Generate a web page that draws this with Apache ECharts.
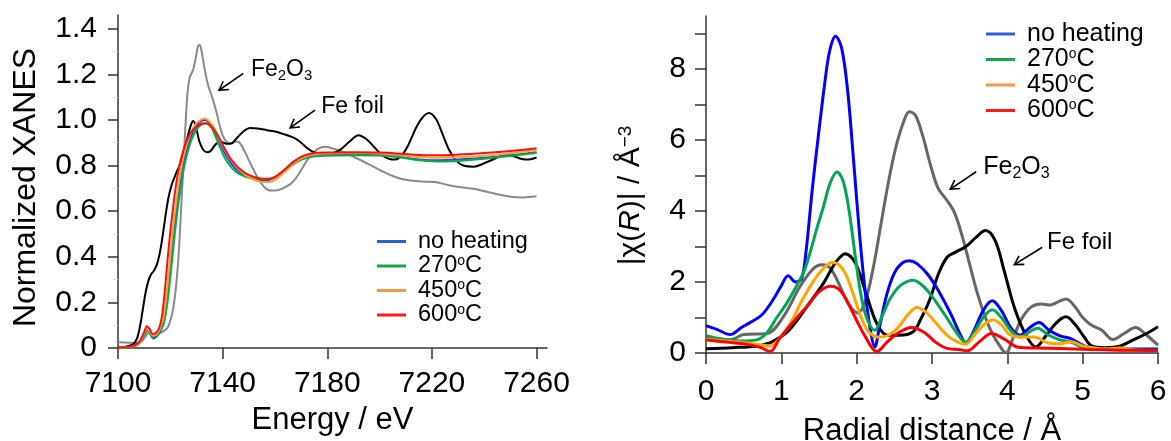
<!DOCTYPE html>
<html>
<head>
<meta charset="utf-8">
<script src="https://cdn.jsdelivr.net/npm/echarts@6/dist/echarts.min.js"></script>
<style>
    html, body { margin: 0; padding: 0; background: #fff; }
    #chart { width: 1171px; height: 441px; }
</style>
</head>
<body>
<div id="chart"></div>
<script>
// ---- values ----
const sample_names = ["no heating", "270ºC", "450ºC", "600ºC"];

// left panel: XANES, [energy eV, normalized absorption]
const xanes_no_heating = [[7100,0.003],[7105,0.006],[7108,0.02],[7110,0.06],[7111.3,0.08],[7112.2,0.065],[7113.4,0.042],[7114.8,0.05],[7116.2,0.075],[7117.5,0.11],[7118.7,0.2],[7119.7,0.31],[7120.6,0.42],[7121.6,0.53],[7122.6,0.625],[7123.7,0.71],[7125,0.8],[7126.5,0.875],[7128,0.93],[7130,0.975],[7132,0.997],[7133.5,1.0],[7135,0.985],[7137,0.95],[7139,0.9],[7141,0.85],[7143.5,0.805],[7146,0.775],[7149,0.752],[7152,0.74],[7155,0.735],[7158,0.738],[7161,0.755],[7164,0.785],[7167,0.815],[7170,0.835],[7174,0.847],[7180,0.85],[7190,0.852],[7200,0.848],[7208,0.838],[7215,0.827],[7222,0.823],[7230,0.826],[7240,0.834],[7250,0.845],[7260,0.858]];
const xanes_270 = [[7100,0.002],[7105,0.005],[7108,0.018],[7110,0.055],[7111.3,0.078],[7112.2,0.065],[7113.4,0.048],[7114.8,0.055],[7116.2,0.078],[7117.5,0.11],[7118.9,0.2],[7120,0.31],[7121,0.42],[7122,0.53],[7123,0.625],[7124.1,0.71],[7125.4,0.8],[7126.9,0.87],[7128.5,0.925],[7130.5,0.965],[7132.5,0.983],[7134,0.985],[7135.5,0.97],[7137,0.935],[7139,0.88],[7141,0.83],[7143.5,0.79],[7146,0.765],[7149,0.75],[7152,0.743],[7155,0.74],[7158,0.742],[7161,0.755],[7164,0.78],[7167,0.805],[7170,0.825],[7174,0.838],[7180,0.843],[7190,0.845],[7200,0.844],[7208,0.835],[7215,0.823],[7222,0.818],[7230,0.82],[7240,0.83],[7250,0.842],[7260,0.855]];
const xanes_450 = [[7100,0.002],[7105,0.006],[7108,0.022],[7110,0.065],[7111.2,0.088],[7112.2,0.072],[7113.4,0.055],[7114.8,0.06],[7116,0.085],[7117.3,0.13],[7118.4,0.22],[7119.4,0.33],[7120.3,0.44],[7121.2,0.54],[7122.2,0.635],[7123.2,0.72],[7124.5,0.81],[7126,0.88],[7127.6,0.935],[7129.6,0.98],[7131.6,1.0],[7133.2,1.006],[7135,0.993],[7137,0.96],[7139,0.91],[7141,0.865],[7143.5,0.82],[7146,0.785],[7149,0.757],[7152,0.738],[7155,0.728],[7158,0.728],[7161,0.745],[7164,0.775],[7167,0.808],[7170,0.832],[7174,0.848],[7180,0.853],[7190,0.856],[7200,0.853],[7208,0.845],[7215,0.837],[7222,0.834],[7230,0.836],[7240,0.843],[7250,0.854],[7260,0.868]];
const xanes_600 = [[7100,0.002],[7105,0.007],[7108,0.025],[7110,0.07],[7111,0.095],[7112,0.085],[7113.2,0.062],[7114.5,0.066],[7115.8,0.09],[7116.8,0.14],[7117.8,0.24],[7118.6,0.34],[7119.3,0.43],[7120.1,0.52],[7121,0.61],[7122,0.7],[7123.3,0.79],[7124.8,0.86],[7126.5,0.915],[7128.5,0.955],[7130.5,0.975],[7132.5,0.985],[7134.5,0.982],[7136.5,0.96],[7138.5,0.925],[7140.5,0.88],[7143,0.83],[7146,0.79],[7149,0.765],[7152,0.75],[7155,0.742],[7158,0.742],[7161,0.758],[7164,0.785],[7167,0.815],[7170,0.838],[7174,0.853],[7180,0.857],[7190,0.858],[7200,0.857],[7208,0.852],[7215,0.846],[7222,0.845],[7230,0.848],[7240,0.855],[7250,0.864],[7260,0.876]];
const xanes_fe_foil = [[7100,0.002],[7103,0.005],[7105,0.012],[7106.5,0.025],[7107.5,0.05],[7108.5,0.1],[7109.5,0.17],[7110.5,0.24],[7111.5,0.29],[7112.5,0.32],[7113.8,0.34],[7115,0.37],[7116.2,0.43],[7117.3,0.51],[7118.3,0.59],[7119.3,0.66],[7120.5,0.715],[7122,0.76],[7123.5,0.8],[7125,0.855],[7126.5,0.92],[7127.8,0.975],[7128.8,0.995],[7129.8,0.97],[7131,0.91],[7132.5,0.87],[7134,0.858],[7135.5,0.865],[7137.5,0.895],[7139.5,0.903],[7141.5,0.895],[7143,0.895],[7145,0.915],[7147.5,0.945],[7150.5,0.965],[7153.5,0.962],[7157,0.955],[7160.5,0.948],[7164,0.935],[7167.5,0.92],[7170,0.9],[7172.5,0.875],[7175,0.857],[7178,0.85],[7181.5,0.852],[7185,0.87],[7188.5,0.905],[7192,0.933],[7195,0.915],[7198,0.88],[7201,0.845],[7203.5,0.83],[7206,0.826],[7208.5,0.845],[7211,0.89],[7213.5,0.955],[7216,1.005],[7218.8,1.03],[7221.5,1.005],[7224,0.94],[7226.5,0.87],[7229,0.825],[7232,0.8],[7236,0.795],[7240,0.81],[7244,0.83],[7248,0.845],[7251,0.842],[7254,0.83],[7257,0.826],[7260,0.835]];
const xanes_fe2o3 = [[7100,0.025],[7104,0.023],[7107,0.022],[7109,0.03],[7110.5,0.05],[7111.5,0.065],[7112.5,0.06],[7114,0.058],[7116,0.065],[7117.5,0.075],[7119,0.09],[7120.5,0.14],[7121.8,0.23],[7123,0.38],[7124,0.58],[7125,0.8],[7125.9,1.0],[7126.6,1.12],[7127.4,1.185],[7128.7,1.22],[7129.7,1.27],[7130.5,1.32],[7131.1,1.33],[7131.8,1.31],[7133,1.23],[7134.5,1.15],[7136,1.1],[7137.5,1.04],[7139,0.97],[7140.5,0.92],[7142,0.9],[7143.5,0.898],[7145,0.905],[7146.5,0.9],[7148.5,0.86],[7151,0.8],[7153.5,0.745],[7156,0.705],[7158.5,0.69],[7161,0.692],[7164,0.705],[7167,0.73],[7170,0.78],[7173,0.835],[7176,0.87],[7179,0.882],[7182,0.875],[7186,0.86],[7191,0.833],[7196,0.805],[7201,0.775],[7206,0.75],[7211,0.735],[7216,0.73],[7221,0.728],[7226,0.715],[7231,0.705],[7236,0.698],[7241,0.685],[7246,0.672],[7251,0.662],[7255,0.66],[7260,0.665]];

// right panel: |chi(R)|, [R in Å, magnitude]
const ft_no_heating = [[0,0.77],[0.15,0.66],[0.32,0.52],[0.47,0.72],[0.61,0.89],[0.74,1.07],[0.89,1.5],[1.0,1.9],[1.09,2.18],[1.19,2.0],[1.27,2.1],[1.33,2.9],[1.41,4.6],[1.49,6.1],[1.57,7.5],[1.64,8.5],[1.72,8.93],[1.8,8.6],[1.88,7.4],[1.96,5.4],[2.04,3.3],[2.12,1.6],[2.19,0.55],[2.24,0.17],[2.3,0.7],[2.4,1.65],[2.5,2.25],[2.6,2.53],[2.7,2.6],[2.8,2.52],[2.95,2.2],[3.1,1.7],[3.25,1.1],[3.38,0.5],[3.45,0.28],[3.55,0.6],[3.68,1.2],[3.8,1.47],[3.92,1.2],[4.05,0.7],[4.17,0.5],[4.3,0.72],[4.42,0.86],[4.55,0.65],[4.7,0.48],[4.85,0.4],[5.02,0.2],[5.2,0.13],[5.6,0.11],[6,0.11]];
const ft_270 = [[0,0.49],[0.2,0.4],[0.45,0.34],[0.67,0.37],[0.8,0.55],[0.94,1.0],[1.07,1.4],[1.2,1.88],[1.3,2.3],[1.38,2.82],[1.47,3.5],[1.56,4.13],[1.65,4.8],[1.74,5.1],[1.82,4.85],[1.9,4.0],[1.98,2.75],[2.06,1.6],[2.14,0.95],[2.24,0.64],[2.34,1.05],[2.45,1.55],[2.58,1.9],[2.75,2.05],[2.9,1.85],[3.05,1.45],[3.2,0.98],[3.35,0.5],[3.45,0.3],[3.55,0.55],[3.68,1.0],[3.8,1.22],[3.92,1.0],[4.05,0.62],[4.17,0.45],[4.3,0.6],[4.4,0.7],[4.55,0.5],[4.7,0.37],[4.85,0.3],[5.05,0.12],[5.3,0.1],[6,0.08]];
const ft_450 = [[0,0.38],[0.3,0.33],[0.55,0.28],[0.75,0.22],[0.85,0.2],[0.95,0.35],[1.05,0.6],[1.15,0.95],[1.25,1.38],[1.36,1.8],[1.47,2.16],[1.58,2.43],[1.68,2.55],[1.77,2.48],[1.86,2.2],[1.96,1.62],[2.06,1.0],[2.16,0.6],[2.28,0.45],[2.42,0.5],[2.55,0.72],[2.68,1.08],[2.8,1.28],[2.92,1.15],[3.05,0.85],[3.2,0.5],[3.35,0.3],[3.45,0.25],[3.58,0.55],[3.7,0.82],[3.81,0.93],[3.92,0.8],[4.03,0.52],[4.17,0.45],[4.35,0.45],[4.55,0.28],[4.7,0.26],[4.85,0.32],[5.0,0.2],[5.3,0.12],[5.5,0.14],[5.7,0.08],[6,0.07]];
const ft_600 = [[0,0.37],[0.3,0.3],[0.53,0.25],[0.72,0.16],[0.85,0.04],[0.97,0.39],[1.07,0.66],[1.2,0.98],[1.34,1.31],[1.5,1.72],[1.65,1.88],[1.75,1.82],[1.85,1.55],[1.98,1.0],[2.12,0.44],[2.27,0.04],[2.4,0.3],[2.56,0.58],[2.73,0.72],[2.9,0.58],[3.05,0.3],[3.2,0.13],[3.35,0.1],[3.47,0.06],[3.62,0.3],[3.79,0.55],[3.96,0.39],[4.15,0.16],[4.4,0.14],[4.7,0.13],[5.1,0.1],[5.5,0.08],[6,0.07]];
const ft_fe_foil = [[0,0.12],[0.35,0.15],[0.68,0.2],[0.89,0.33],[1.11,0.66],[1.34,1.31],[1.56,1.97],[1.72,2.55],[1.85,2.8],[1.98,2.55],[2.12,1.71],[2.27,0.82],[2.41,0.5],[2.56,0.5],[2.75,0.6],[2.85,0.95],[2.97,1.5],[3.08,2.2],[3.2,2.7],[3.32,2.85],[3.45,3.0],[3.58,3.25],[3.71,3.45],[3.84,3.16],[3.96,2.3],[4.1,1.24],[4.25,0.49],[4.38,0.17],[4.5,0.45],[4.65,0.85],[4.78,1.02],[4.9,0.8],[5.02,0.45],[5.12,0.2],[5.3,0.15],[5.5,0.2],[5.7,0.4],[5.85,0.55],[6,0.74]];
const ft_fe2o3 = [[0,0.42],[0.32,0.37],[0.5,0.52],[0.81,0.55],[1.03,1.03],[1.25,1.88],[1.43,2.39],[1.54,2.49],[1.65,2.39],[1.78,1.88],[1.9,1.35],[2.02,1.13],[2.12,1.5],[2.22,2.4],[2.32,3.6],[2.42,4.8],[2.52,5.8],[2.62,6.5],[2.7,6.8],[2.78,6.7],[2.88,6.1],[2.98,5.3],[3.08,4.65],[3.2,4.3],[3.3,3.95],[3.4,3.3],[3.5,2.5],[3.6,1.7],[3.7,1.05],[3.8,0.55],[3.9,0.2],[3.98,0.0],[4.08,0.45],[4.2,1.0],[4.32,1.3],[4.45,1.38],[4.57,1.35],[4.68,1.45],[4.78,1.52],[4.9,1.3],[5.0,1.0],[5.12,0.78],[5.25,0.65],[5.4,0.38],[5.55,0.55],[5.7,0.72],[5.85,0.5],[6,0.22]];

// tick positions / labels
const xanes_x_ticks = [7100, 7140, 7180, 7220, 7260];
const xanes_y_ticks = [0, 0.2, 0.4, 0.6, 0.8, 1.0, 1.2, 1.4];
const ft_x_ticks = [0, 1, 2, 3, 4, 5, 6];
const ft_y_ticks = [0, 1, 2, 3, 4, 5, 6, 7, 8, 9];
const ft_y_labels = [0, 2, 4, 6, 8];

const FONT = '"Liberation Sans", Arial, sans-serif';
const left_colors = ["#1f45e8", "#10a84a", "#f8a52a", "#ff1010"];
const right_colors = ["#0000ff", "#00a651", "#ffa500", "#ff0000"];
const legend_colors = ["#2a5fd8", "#18a84a", "#f9974a", "#ff1a1a"];

function line(name, data, color, width, idx) {
    return {
        type: "line",
        name,
        data,
        xAxisIndex: idx,
        yAxisIndex: idx,
        symbol: "none",
        smooth: 0.35,
        silent: true,
        lineStyle: { color, width },
        itemStyle: { color },
    };
}

const axis_line = { show: true, lineStyle: { color: "#333", width: 1.5 } };
const tick_label = { color: "#000", fontSize: 30, fontFamily: FONT };

function legend(left, top, font_size, line_h) {
    return {
        orient: "vertical",
        left,
        top,
        icon: "rect",
        itemWidth: 29,
        itemHeight: 3,
        itemGap: 0.5,
        selectedMode: false,
        formatter: (n) => n.replace("º", "{s|o}"),
        textStyle: {
            color: "#000",
            fontSize: font_size,
            lineHeight: line_h,
            fontFamily: FONT,
            padding: [0, 0, 0, 7],
            rich: { s: { fontSize: 14, lineHeight: 14, verticalAlign: "top", color: "#000", fontFamily: FONT } },
        },
        data: sample_names.map((n, i) => ({ name: n, itemStyle: { color: legend_colors[i] } })),
    };
}

const chart = echarts.init(document.getElementById("chart"), null, { renderer: "canvas" });

const xanes_samples = [xanes_no_heating, xanes_270, xanes_450, xanes_600];
const ft_samples = [ft_no_heating, ft_270, ft_450, ft_600];

chart.setOption({
    animation: false,
    backgroundColor: "#fff",
    grid: [
        { left: 118, top: 15, width: 429, height: 333, outerBoundsMode: "none", containLabel: false },
        { left: 706, top: 16, width: 452, height: 337, outerBoundsMode: "none", containLabel: false },
    ],
    xAxis: [
        {
            type: "value", gridIndex: 0, min: 7100, max: 7264,
            name: "Energy / eV", nameLocation: "middle", nameGap: 57,
            nameTextStyle: { color: "#000", fontSize: 31, fontFamily: FONT },
            axisLine: axis_line,
            axisTick: { show: true, length: 11, customValues: xanes_x_ticks, lineStyle: { color: "#333", width: 1.5 } },
            axisLabel: { ...tick_label, margin: 21, customValues: xanes_x_ticks, formatter: (v) => String(v) },
            splitLine: { show: false },
        },
        {
            type: "value", gridIndex: 1, min: 0, max: 6, interval: 1,
            name: "Radial distance / Å", nameLocation: "middle", nameGap: 63,
            nameTextStyle: { color: "#000", fontSize: 31, fontFamily: FONT },
            axisLine: axis_line,
            axisTick: { show: true, length: 11, customValues: ft_x_ticks, lineStyle: { color: "#333", width: 1.5 } },
            axisLabel: { ...tick_label, margin: 24, customValues: ft_x_ticks },
            splitLine: { show: false },
        },
    ],
    yAxis: [
        {
            type: "value", gridIndex: 0, min: 0, max: 1.46, interval: 0.2,
            name: "Normalized XANES", nameLocation: "middle", nameGap: 76, nameRotate: 90,
            nameTextStyle: { color: "#000", fontSize: 32, fontFamily: FONT, padding: [0, 12, 0, 0] },
            axisLine: axis_line,
            axisTick: { show: true, length: 10, customValues: xanes_y_ticks, lineStyle: { color: "#333", width: 1.5 } },
            minorTick: { show: true, splitNumber: 2, length: 5, lineStyle: { color: "#ddd", width: 1 } },
            axisLabel: { ...tick_label, margin: 21, customValues: xanes_y_ticks, formatter: (v) => (v === 0 ? "0" : v.toFixed(1)) },
            splitLine: { show: false },
        },
        {
            type: "value", gridIndex: 1, min: 0, max: 9.5,
            name: "|χ({i|R})| / Å{s|−3}", nameLocation: "middle", nameGap: 60, nameRotate: 90,
            nameTextStyle: {
                color: "#000", fontSize: 30, fontFamily: FONT, padding: [0, 22, 0, 0],
                rich: {
                    i: { fontStyle: "italic", fontSize: 30, color: "#000", fontFamily: FONT },
                    s: { fontSize: 19, lineHeight: 19, verticalAlign: "top", color: "#000", fontFamily: FONT },
                },
            },
            axisLine: axis_line,
            axisTick: { show: true, length: 11, customValues: ft_y_ticks, lineStyle: { color: "#333", width: 1.5 } },
            axisLabel: { ...tick_label, margin: 20, customValues: ft_y_labels },
            splitLine: { show: false },
        },
    ],
    legend: [legend(372, 224.5, 23.5, 24), legend(981, 16.5, 25, 25)],
    series: [
        line("Fe2O3", xanes_fe2o3, "#8a8a8a", 2, 0),
        line("Fe foil", xanes_fe_foil, "#000", 2, 0),
        ...xanes_samples.map((d, i) => line(sample_names[i], d, left_colors[i], 2, 0)),
        line("Fe2O3", ft_fe2o3, "#666", 3, 1),
        line("Fe foil", ft_fe_foil, "#000", 3, 1),
        ...ft_samples.map((d, i) => line(sample_names[i], d, right_colors[i], 3, 1)),
    ],
});

// annotations: label anchor + arrow tail/head, in data units of each panel
const notes = [
    { grid: 0, text: "Fe{b|2}O{b|3}", at: [7150.8, 1.22], tail: [7147.9, 1.204], head: [7138.6, 1.13], size: 23 },
    { grid: 0, text: "Fe foil", at: [7177.7, 1.057], tail: [7175.3, 1.043], head: [7165.8, 0.965], size: 23 },
    { grid: 1, text: "Fe{b|2}O{b|3}", at: [3.68, 5.23], tail: [3.586, 5.11], head: [3.243, 4.62], size: 25 },
    { grid: 1, text: "Fe foil", at: [4.527, 3.12], tail: [4.464, 2.98], head: [4.093, 2.49], size: 24 },
];

function arrow_head(tail, head, len) {
    const ang = Math.atan2(tail[1] - head[1], tail[0] - head[0]);
    const spread = Math.PI / 6;
    return [
        [head[0] + len * Math.cos(ang + spread), head[1] + len * Math.sin(ang + spread)],
        head,
        [head[0] + len * Math.cos(ang - spread), head[1] + len * Math.sin(ang - spread)],
    ];
}

const graphic = [];
notes.forEach((n) => {
    const to_px = (p) => chart.convertToPixel({ gridIndex: n.grid }, p);
    const at = to_px(n.at), tail = to_px(n.tail), head = to_px(n.head);
    graphic.push({
        type: "text", x: at[0], y: at[1], silent: true,
        style: {
            text: n.text, fill: "#000", font: `${n.size}px ${FONT}`,
            align: "left", verticalAlign: "middle", lineHeight: n.size + 4,
            rich: { b: { fontSize: Math.round(n.size * 0.65), lineHeight: Math.round(n.size * 0.65), verticalAlign: "bottom", fill: "#000", fontFamily: FONT } },
        },
    });
    graphic.push({
        type: "polyline", silent: true,
        shape: { points: [tail, head] },
        style: { stroke: "#000", lineWidth: 1.6, fill: null },
    });
    graphic.push({
        type: "polyline", silent: true,
        shape: { points: arrow_head(tail, head, 10) },
        style: { stroke: "#000", lineWidth: 1.6, fill: null },
    });
});
chart.setOption({ graphic });
</script>
</body>
</html>
